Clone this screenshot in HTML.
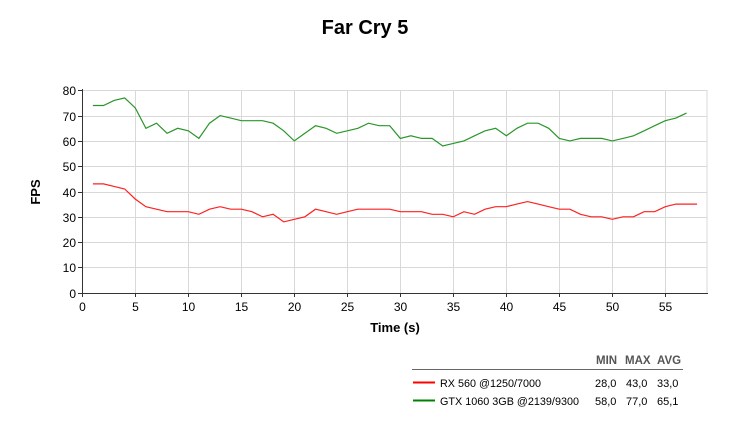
<!DOCTYPE html>
<html><head><meta charset="utf-8"><style>
body{margin:0;background:#fff;}
svg{display:block;font-family:"Liberation Sans",Arial,sans-serif;}
</style></head><body>
<svg id="s" width="730" height="430" xmlns="http://www.w3.org/2000/svg">
<text x="365" y="34" text-anchor="middle" font-size="20" font-weight="bold">Far Cry 5</text>
<g id="grid"></g>
<polyline id="g" fill="none" stroke="#2a962a" stroke-width="1.2"/>
<polyline id="r" fill="none" stroke="#ff2020" stroke-width="1.2"/>
<text x="0" y="0" font-size="13" font-weight="bold" transform="translate(40,192) rotate(-90)" text-anchor="middle">FPS</text>
<text x="395" y="332" font-size="13" font-weight="bold" text-anchor="middle">Time (s)</text>
<g font-size="11.5" font-weight="bold" fill="#555">
<text x="596" y="364">MIN</text><text x="625" y="364">MAX</text><text x="657" y="364">AVG</text>
</g>
<line x1="412" y1="369.5" x2="683" y2="369.5" stroke="#666" stroke-width="1"/>
<line x1="413" y1="382.5" x2="435" y2="382.5" stroke="#ff0000" stroke-width="2"/>
<line x1="413" y1="400.5" x2="435" y2="400.5" stroke="#008000" stroke-width="2"/>
<g font-size="11" fill="#000">
<text x="440" y="387" textLength="101" lengthAdjust="spacingAndGlyphs">RX 560 @1250/7000</text>
<text x="440" y="405" textLength="139" lengthAdjust="spacingAndGlyphs">GTX 1060 3GB @2139/9300</text>
<text x="595" y="387">28,0</text><text x="626" y="387">43,0</text><text x="657" y="387">33,0</text>
<text x="595" y="405">58,0</text><text x="626" y="405">77,0</text><text x="657" y="405">65,1</text>
</g>
</svg>
<script>
var X=function(t){return 82.3+t*10.6},Y=function(v){return 292.7-v*2.53};
var g=document.getElementById("grid"),h="";
for(var v=0;v<=80;v+=10){var y=Math.round(Y(v))+0.5;
 if(v>0)h+='<line x1="82" x2="707" y1="'+y+'" y2="'+y+'" stroke="#d9d9d9"/>';
 h+='<line x1="78" x2="82" y1="'+y+'" y2="'+y+'" stroke="#333"/>';
 h+='<text x="76" y="'+(y+4.5)+'" font-size="12" text-anchor="end">'+v+'</text>';}
for(var t=0;t<=55;t+=5){var x=Math.round(X(t))+0.5;
 if(t>0)h+='<line y1="90" y2="293" x1="'+x+'" x2="'+x+'" stroke="#d9d9d9"/>';
 h+='<line y1="293" y2="297" x1="'+x+'" x2="'+x+'" stroke="#333"/>';
 h+='<text y="311" x="'+x+'" font-size="12" text-anchor="middle">'+t+'</text>';}
h+='<line x1="707" x2="707" y1="90" y2="293" stroke="#d9d9d9"/>';
h+='<line x1="82.5" x2="82.5" y1="89" y2="293" stroke="#333"/>';
h+='<line x1="82" x2="708" y1="293.5" y2="293.5" stroke="#333"/>';
g.innerHTML=h;
var G=[74,74,76,77,73,65,67,63,65,64,61,67,70,69,68,68,68,67,64,60,63,66,65,63,64,65,67,66,66,61,62,61,61,58,59,60,62,64,65,62,65,67,67,65,61,60,61,61,61,60,61,62,64,66,68,69,71];
var R=[43,43,42,41,37,34,33,32,32,32,31,33,34,33,33,32,30,31,28,29,30,33,32,31,32,33,33,33,33,32,32,32,31,31,30,32,31,33,34,34,35,36,35,34,33,33,31,30,30,29,30,30,32,32,34,35,35,35];
function pts(a){return a.map(function(v,i){return X(i+1).toFixed(1)+","+Y(v).toFixed(1)}).join(" ")}
document.getElementById("g").setAttribute("points",pts(G));
document.getElementById("r").setAttribute("points",pts(R));
</script>
</body></html>
